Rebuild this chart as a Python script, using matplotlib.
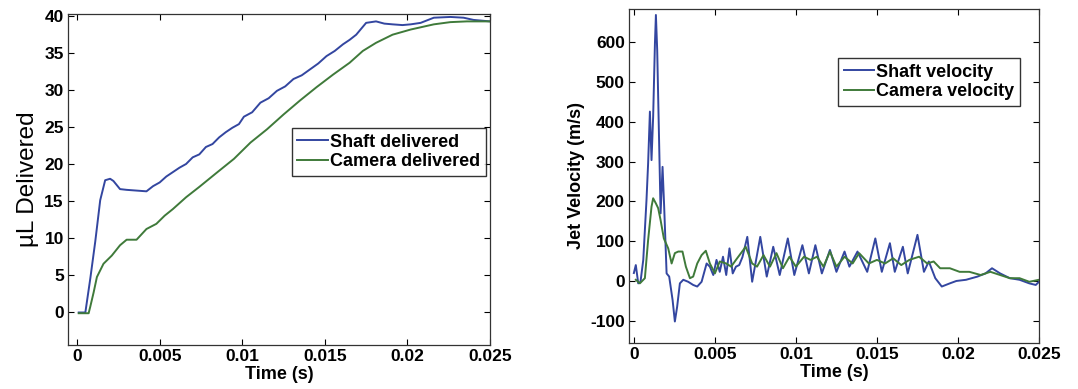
import numpy as np
import matplotlib.pyplot as plt
import matplotlib as mpl

mpl.rcParams['font.family'] = 'sans-serif'
mpl.rcParams['font.sans-serif'] = ['Liberation Sans', 'DejaVu Sans']
mpl.rcParams['font.size'] = 12
mpl.rcParams['axes.unicode_minus'] = False

blue = '#3346a0'
green = '#3f7a3a'

# volume delivered (uL)
t_shaft = [0.0001, 0.0005, 0.0008, 0.0011, 0.0014, 0.0017, 0.002, 0.0022, 0.0026, 0.003, 0.0036,
           0.0042, 0.0046, 0.005, 0.0054, 0.0058, 0.0062, 0.0066, 0.007, 0.0074, 0.0078, 0.0082,
           0.0086, 0.009, 0.0094, 0.0098, 0.0101, 0.0106, 0.0111, 0.0116, 0.0121, 0.0126, 0.0131,
           0.0136, 0.0141, 0.0146, 0.0151, 0.0156, 0.0161, 0.0165, 0.0169, 0.0172, 0.0175, 0.0181,
           0.0186, 0.0191, 0.0197, 0.0202, 0.0208, 0.0216, 0.0226, 0.0234, 0.024, 0.025]
v_shaft = [-0.1, -0.1, 4.5, 9.5, 15.1, 17.8, 18.0, 17.7, 16.6, 16.5, 16.4,
           16.3, 17.0, 17.5, 18.3, 18.9, 19.5, 20.0, 20.9, 21.3, 22.3, 22.7,
           23.6, 24.3, 24.9, 25.4, 26.4, 27.0, 28.3, 28.9, 29.9, 30.5, 31.5,
           32.0, 32.8, 33.6, 34.6, 35.3, 36.2, 36.8, 37.5, 38.3, 39.1, 39.3,
           39.0, 38.9, 38.8, 38.9, 39.1, 39.8, 39.9, 39.8, 39.5, 39.3]
t_cam = [0.0001, 0.0007, 0.0008, 0.001, 0.0012, 0.0016, 0.0021, 0.0026, 0.003, 0.0036, 0.0042,
         0.0048, 0.0053, 0.0058, 0.0066, 0.0074, 0.0085, 0.0095, 0.0105, 0.0115, 0.0125, 0.0135,
         0.0145, 0.0155, 0.0165, 0.0173, 0.0181, 0.0191, 0.0202, 0.0216, 0.0226, 0.0236, 0.025]
v_cam = [-0.2, -0.2, 0.7, 2.6, 4.7, 6.5, 7.6, 9.0, 9.75, 9.75, 11.2,
         11.9, 13.0, 13.9, 15.5, 16.9, 18.9, 20.7, 22.9, 24.7, 26.7, 28.6,
         30.4, 32.1, 33.7, 35.3, 36.4, 37.5, 38.2, 38.9, 39.2, 39.3, 39.3]

# jet velocity (m/s)
tv_shaft = [0.0, 0.00012, 0.00027, 0.00041, 0.00058, 0.00078, 0.00088, 0.00099, 0.00109, 0.00119,
            0.0013, 0.00136, 0.00144, 0.00156, 0.00165, 0.00177, 0.00187, 0.00202, 0.00218, 0.00239,
            0.00253, 0.00267, 0.00284, 0.00305, 0.00335, 0.00366, 0.00391, 0.00418, 0.00449, 0.00469,
            0.0049, 0.0051, 0.0053, 0.0055, 0.0057, 0.0059, 0.0061, 0.0063, 0.0065, 0.0067, 0.007,
            0.0073, 0.0078, 0.0082, 0.0086, 0.009, 0.0095, 0.0099, 0.0104, 0.0108, 0.0112, 0.0116,
            0.0121, 0.0125, 0.013, 0.0133, 0.0138, 0.0144, 0.0149, 0.0153, 0.0158, 0.0161, 0.0166,
            0.0169, 0.0175, 0.0179, 0.0182, 0.0186, 0.019, 0.0195, 0.0199, 0.0205, 0.0212, 0.0217,
            0.0221, 0.0226, 0.0232, 0.0238, 0.0244, 0.0248, 0.025]
vv_shaft = [20, 40, -6, -2, 53, 204, 296, 426, 304, 413,
            597, 669, 581, 346, 170, 287, 187, 19, 11, -48,
            -102, -65, -6, 3, -2, -10, -14, -2, 44, 36,
            15, 53, 23, 61, 15, 82, 19, 36, 40, 60, 111,
            -2, 111, 11, 86, 15, 107, 15, 90, 19, 90, 19,
            78, 23, 74, 36, 74, 23, 107, 23, 95, 23, 86,
            19, 116, 23, 49, 7, -14, -6, 0, 3, 11, 19,
            32, 19, 7, 3, -6, -10, -2]
tv_cam = [0.00012, 0.00037, 0.00068, 0.00088, 0.00109, 0.00119, 0.00136, 0.0015, 0.00165, 0.00185,
          0.00212, 0.00233, 0.00253, 0.00274, 0.003, 0.00321, 0.00346, 0.00366, 0.00391, 0.00418,
          0.00444, 0.00469, 0.005, 0.0053, 0.0057, 0.006, 0.0063, 0.0069, 0.0073, 0.0076, 0.008,
          0.0084, 0.0088, 0.0092, 0.0096, 0.01, 0.0105, 0.0109, 0.0113, 0.0117, 0.0121, 0.0125,
          0.013, 0.0135, 0.0139, 0.0145, 0.015, 0.0155, 0.016, 0.0165, 0.017, 0.0176, 0.0181,
          0.0185, 0.0189, 0.0195, 0.0201, 0.0207, 0.0214, 0.022, 0.0226, 0.0232, 0.0238, 0.0244, 0.025]
vv_cam = [3, -6, 7, 103, 187, 208, 195, 183, 153, 107,
          82, 44, 70, 74, 74, 36, 7, 11, 44, 65,
          76, 44, 19, 49, 44, 36, 53, 86, 44, 36, 65,
          36, 70, 32, 61, 36, 61, 53, 61, 36, 74, 36,
          61, 44, 70, 44, 53, 44, 57, 40, 53, 61, 44,
          49, 32, 32, 23, 23, 15, 23, 15, 7, 7, -2, 3]

fig = plt.figure(figsize=(10.78, 3.89), dpi=100)
ax1 = fig.add_axes([68/1078, 44/389, 422/1078, 331/389])
ax2 = fig.add_axes([629/1078, 46/389, 410/1078, 334/389])

ax1.plot(t_shaft, v_shaft, color=blue, lw=1.4, label='Shaft delivered')
ax1.plot(t_cam, v_cam, color=green, lw=1.4, label='Camera delivered')
ax1.set_xlim(-0.00055, 0.025)
ax1.set_ylim(-4.5, 40.3)
ax1.set_yticks(np.arange(0, 41, 5))
ax1.set_ylabel(u'\u00b5L Delivered', fontsize=17.5, labelpad=4)
ax1.legend(loc='upper left', bbox_to_anchor=(0.531, 0.655), fancybox=False,
           edgecolor='black', handlelength=1.7, handletextpad=0.1, borderpad=0.3,
           labelspacing=0.15, borderaxespad=0, prop={'weight': 'bold', 'size': 13})

ax2.plot(tv_shaft, vv_shaft, color=blue, lw=1.4, label='Shaft velocity')
ax2.plot(tv_cam, vv_cam, color=green, lw=1.4, label='Camera velocity')
ax2.set_xlim(-0.0003, 0.025)
ax2.set_ylim(-156, 684)
ax2.set_yticks(np.arange(-100, 601, 100))
ax2.set_ylabel('Jet Velocity (m/s)', fontsize=13, fontweight='bold', labelpad=4)
ax2.legend(loc='upper left', bbox_to_anchor=(0.51, 0.853), fancybox=False,
           edgecolor='black', handlelength=1.7, handletextpad=0.1, borderpad=0.3,
           labelspacing=0.15, borderaxespad=0, prop={'weight': 'bold', 'size': 13})

for ax in (ax1, ax2):
    ax.set_xticks([0, 0.005, 0.01, 0.015, 0.02, 0.025])
    ax.set_xticklabels(['0', '0.005', '0.01', '0.015', '0.02', '0.025'])
    ax.set_xlabel('Time (s)', fontsize=13, fontweight='bold', labelpad=1)
    ax.tick_params(direction='in', top=True, right=True, labelsize=12.5, length=4, pad=3)
    for lab in ax.get_xticklabels() + ax.get_yticklabels():
        lab.set_fontweight('bold')
    for sp in ax.spines.values():
        sp.set_color('#333333')
        sp.set_linewidth(0.9)
    ax.get_legend().get_frame().set_linewidth(1.0)

fig.savefig('out.png', dpi=100)
